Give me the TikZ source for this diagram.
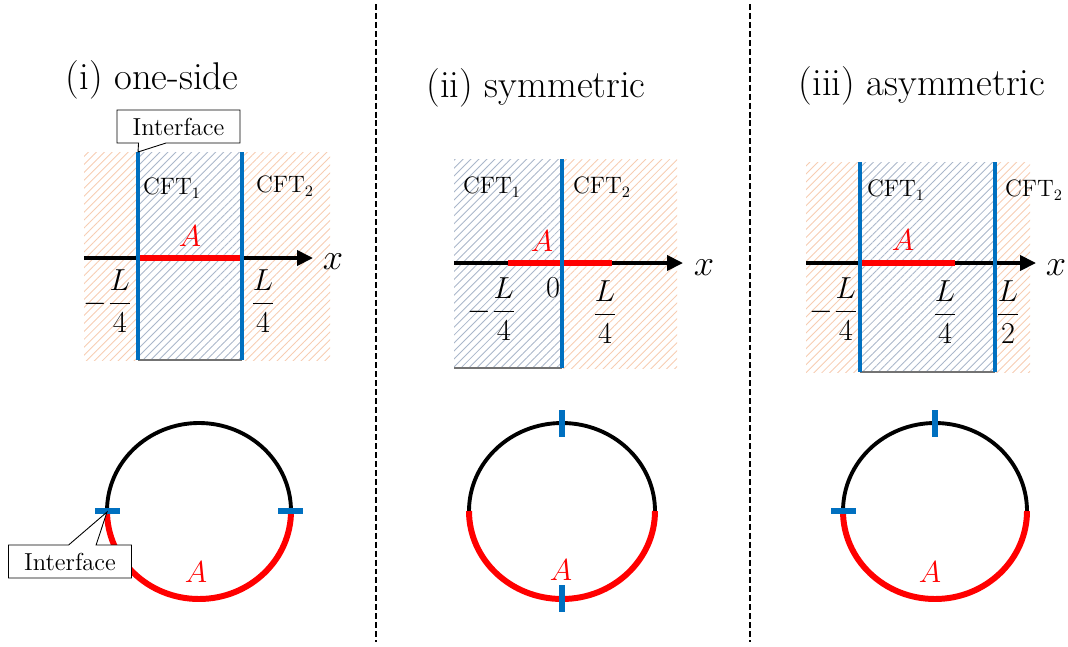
\documentclass[tikz,border=0pt]{standalone}
\usepackage{amsmath}
\usetikzlibrary{arrows.meta,patterns.meta,shapes.callouts}
\definecolor{ifblue}{RGB}{0,112,192}
\definecolor{hatchor}{RGB}{247,205,178}
\definecolor{hatchbl}{RGB}{170,183,202}
\tikzset{
  orhatch/.style={pattern={Lines[angle=45,distance=3.2pt,line width=0.5pt]},pattern color=hatchor},
  blhatch/.style={pattern={Lines[angle=45,distance=3.2pt,line width=0.5pt]},pattern color=hatchbl},
  bottomedge/.style={black!55,line width=0.6pt},
  axis/.style={line width=2pt,-{Triangle[length=9pt,width=8.5pt]}},
  subsys/.style={red,line width=3.4pt},
  iface/.style={ifblue,line width=2.8pt},
  ring/.style={line width=2.2pt},
  ringA/.style={red,line width=3.4pt},
  ifmark/.style={ifblue,line width=3.2pt},
  title/.style={font=\fontsize{22}{25}\selectfont},
  cft/.style={font=\fontsize{13.5}{15}\selectfont},
  lab/.style={font=\fontsize{17}{20}\selectfont},
  alab/.style={red,font=\fontsize{18}{20}\selectfont},
  xlab/.style={font=\fontsize{20}{22}\selectfont},
  ifbox/.style={rectangle callout,draw,fill=white,line width=0.5pt,font=\fontsize{14}{16}\selectfont,
    minimum width=2.46cm,minimum height=0.66cm,inner sep=2pt,callout pointer width=0.55cm},
  sep/.style={line width=1.1pt,dash pattern=on 3.4pt off 1.7pt}
}
\begin{document}
\begin{tikzpicture}[x=0.02cm,y=-0.02cm]
\useasboundingbox (0,0) rectangle (1068,646);

\draw[sep] (376,4) -- (376,642);
\draw[sep] (750,4) -- (750,642);

\node[title] (ti) at (152,80) {(i) one-side};
\fill[orhatch] (84,152) rectangle (138,360);
\fill[blhatch] (138,152) rectangle (242,360);
\fill[orhatch] (242,152) rectangle (330,360);
\draw[bottomedge] (138,360) -- (242,360);
\draw[axis] (84,258) -- (313,258);
\draw[subsys] (138,258) -- (242,258);
\draw[iface] (138,152) -- (138,360);
\draw[iface] (242,152) -- (242,360);
\node[cft] (ti1) at (172,188) {CFT$_1$};
\node[cft] (ti2) at (285,186) {CFT$_2$};
\node[alab] (tiA) at (190,236) {$A$};
\node[xlab] (tix) at (333,262) {$x$};
\node[lab] (tiL) at (108,301) {$-\dfrac{L}{4}$};
\node[lab] (tiR) at (263,301) {$\dfrac{L}{4}$};
\node[ifbox,callout absolute pointer={(138,152)}] (tibox) at (178.5,126.5) {Interface};

\draw[ring] (199,511) ellipse[x radius=92,y radius=88];
\draw[ringA] (291,511) arc[start angle=0,end angle=180,x radius=92,y radius=88];
\draw[ifmark] (95,511) -- (120,511);
\draw[ifmark] (278,511) -- (303,511);
\node[alab] (ciA) at (196,572) {$A$};
\node[ifbox,callout absolute pointer={(107,512)}] (cibox) at (70,561.5) {Interface};

\node[title] (tii) at (536,88) {(ii) symmetric};
\fill[blhatch] (454,159) rectangle (562,368);
\fill[orhatch] (562,159) rectangle (677,368);
\draw[bottomedge] (454,368) -- (562,368);
\draw[axis] (454,263) -- (683,263);
\draw[subsys] (508,263) -- (612,263);
\draw[iface] (562,159) -- (562,368);
\node[cft] (tii1) at (492,187) {CFT$_1$};
\node[cft] (tii2) at (602,187) {CFT$_2$};
\node[alab] (tiiA) at (542,241) {$A$};
\node[xlab] (tiix) at (704,268) {$x$};
\node[lab] (tii0) at (553,288) {$0$};
\node[lab] (tiiL) at (492,309) {$-\dfrac{L}{4}$};
\node[lab] (tiiR) at (605,312) {$\dfrac{L}{4}$};

\draw[ring] (562,511) ellipse[x radius=93,y radius=88];
\draw[ringA] (655,511) arc[start angle=0,end angle=180,x radius=93,y radius=88];
\draw[ifmark] (562,410) -- (562,437);
\draw[ifmark] (562,585) -- (562,612);
\node[alab] (ciiA) at (561,570) {$A$};

\node[title] (tiii) at (922,86) {(iii) asymmetric};
\fill[orhatch] (806,162) rectangle (860,372);
\fill[blhatch] (860,162) rectangle (995,372);
\fill[orhatch] (995,162) rectangle (1030,372);
\draw[bottomedge] (860,372) -- (995,372);
\draw[axis] (806,263) -- (1036,263);
\draw[subsys] (860,263) -- (955,263);
\draw[iface] (860,162) -- (860,372);
\draw[iface] (995,162) -- (995,372);
\node[cft] (tiii1) at (896,190) {CFT$_1$};
\node[cft] (tiii2) at (1034,190) {CFT$_2$};
\node[alab] (tiiiA) at (903,240) {$A$};
\node[xlab] (tiiix) at (1056,268) {$x$};
\node[lab] (tiiiL) at (834,309) {$-\dfrac{L}{4}$};
\node[lab] (tiiiM) at (945,312) {$\dfrac{L}{4}$};
\node[lab] (tiiiR) at (1008,312) {$\dfrac{L}{2}$};

\draw[ring] (935,511) ellipse[x radius=92,y radius=88];
\draw[ringA] (1027,511) arc[start angle=0,end angle=180,x radius=92,y radius=88];
\draw[ifmark] (831,511) -- (856,511);
\draw[ifmark] (935,410) -- (935,437);
\node[alab] (ciiiA) at (930,572) {$A$};
\end{tikzpicture}
\end{document}
